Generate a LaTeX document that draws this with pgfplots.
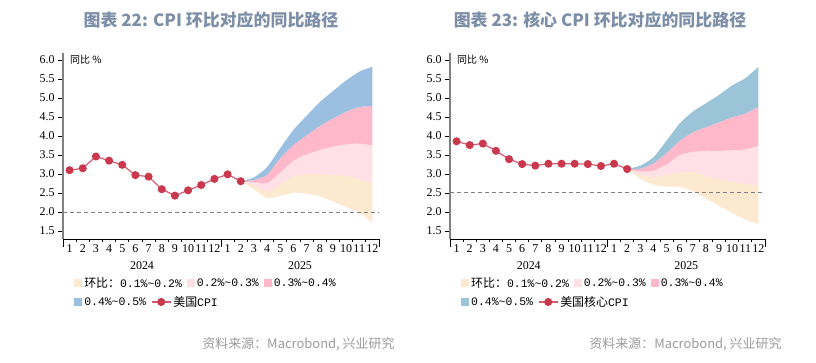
\documentclass[border=0pt]{standalone}
\usepackage{fontspec}
\usepackage{pgfplots}
\usepackage{pgfplotstable}
\pgfplotsset{compat=1.18}
\usepgfplotslibrary{fillbetween}
\setmainfont{Liberation Serif}
\newfontfamily\cjk{Noto Sans CJK SC}
\newfontfamily\lmono{Liberation Mono}
\definecolor{cBeige}{HTML}{FCE9CF}
\definecolor{cLPink}{HTML}{FFE0E6}
\definecolor{cPink}{HTML}{FFB8C9}
\definecolor{cBlueA}{HTML}{9BBFE0}
\definecolor{cBlueB}{HTML}{9CC4D9}
\definecolor{cRed}{HTML}{C9384C}
\definecolor{cLine}{HTML}{D65A6E}
\definecolor{cTitle}{HTML}{7D8EA7}
\definecolor{cSrc}{HTML}{9A9A9A}

\pgfplotstableread{
x y
1 3.10
2 3.15
3 3.46
4 3.35
5 3.24
6 2.97
7 2.93
8 2.60
9 2.43
10 2.57
11 2.71
12 2.87
13 2.99
14 2.81
}\cpiA

\pgfplotstableread{
x l1 l2 l3 l4 l5
14 2.81 2.81 2.81 2.81 2.81
15 2.60 2.71 2.78 2.84 2.91
16 2.37 2.53 2.76 2.98 3.18
17 2.42 2.73 3.04 3.42 3.68
18 2.51 2.93 3.35 3.76 4.16
19 2.48 3.00 3.52 4.02 4.53
20 2.41 3.00 3.63 4.26 4.89
21 2.28 2.98 3.72 4.46 5.18
22 2.13 2.95 3.78 4.64 5.46
23 1.99 2.88 3.80 4.76 5.69
24 1.71 2.74 3.75 4.79 5.82
}\bandA

\pgfplotstableread{
x y
1 3.86
2 3.76
3 3.80
4 3.61
5 3.39
6 3.26
7 3.22
8 3.27
9 3.27
10 3.27
11 3.26
12 3.21
13 3.27
14 3.13
}\cpiB

\pgfplotstableread{
x l1 l2 l3 l4 l5
14 3.13 3.13 3.13 3.13 3.13
15 2.88 2.99 3.07 3.14 3.22
16 2.72 2.92 3.09 3.28 3.44
17 2.67 2.98 3.25 3.55 3.88
18 2.66 3.04 3.50 3.87 4.33
19 2.55 3.05 3.58 4.10 4.64
20 2.36 2.96 3.61 4.23 4.86
21 2.16 2.86 3.61 4.36 5.08
22 1.98 2.80 3.62 4.49 5.33
23 1.80 2.74 3.65 4.59 5.52
24 1.68 2.70 3.74 4.77 5.82
}\bandB

\newcommand{\pct}[2]{{\lmono\fontsize{11.5}{13}\selectfont #1\%\textasciitilde #2\%}}

\pgfplotsset{
  sqlegend/.style={legend image code/.code={\fill[##1,draw=none] (0bp,-4bp) rectangle (8bp,4bp);}},
  lnlegend/.style={legend image code/.code={\draw[##1,mark repeat=2,mark phase=2] plot coordinates {(0bp,0bp) (9.5bp,0bp) (19bp,0bp)};}},
  panel/.style={
    scale only axis, height=186.3bp,
    xmin=0.5, xmax=24.5, ymin=1.29, ymax=6.19,
    axis x line*=bottom, axis y line*=left,
    x axis line style={black, line width=0.8bp},
    y axis line style={color=black!50, line width=2bp},
    xtick={0.5,1.5,...,24.5}, x tick label as interval,
    xticklabels={1,2,3,4,5,6,7,8,9,10,11,12,1,2,3,4,5,6,7,8,9,10,11,12},
    extra x ticks={0.5,12.5,24.5}, extra x tick labels={},
    extra x tick style={major tick length=8bp},
    ytick=\empty,
    extra y ticks={1.5,2,2.5,3,3.5,4,4.5,5,5.5,6},
    extra y tick style={major tick length=5bp},
    yticklabel style={/pgf/number format/.cd, fixed, fixed zerofill, precision=1, assume math mode=true},
    ticklabel style={font=\fontsize{12}{14}\selectfont},
    xticklabel style={inner sep=1bp, yshift=-1.5bp},
    tick align=outside, major tick length=3bp,
    tick style={black, line width=0.8bp},
    clip=false,
  },
  panellegend/.style={
    legend style={draw=none, fill=none, inner sep=0pt, anchor=west,
      font=\cjk\fontsize{12}{13}\selectfont,
      /tikz/every even column/.append style={column sep=3bp}},
  },
}

\begin{document}
\begin{tikzpicture}

% ---------------- Left panel ----------------
\begin{axis}[panel, at={(63bp,124bp)}, anchor=south west, width=316bp,
  panellegend, legend columns=3, legend style={at={(0.035,-0.236)}}]
\addplot[draw=none, forget plot, name path=a1, smooth, tension=0.4] table[x=x,y=l1] {\bandA};
\addplot[draw=none, forget plot, name path=a2, smooth, tension=0.4] table[x=x,y=l2] {\bandA};
\addplot[draw=none, forget plot, name path=a3, smooth, tension=0.4] table[x=x,y=l3] {\bandA};
\addplot[draw=none, forget plot, name path=a4, smooth, tension=0.4] table[x=x,y=l4] {\bandA};
\addplot[draw=none, forget plot, name path=a5, smooth, tension=0.4] table[x=x,y=l5] {\bandA};
\addplot[cBeige, draw=none, forget plot] fill between[of=a1 and a2];
\addplot[cLPink, draw=none, forget plot] fill between[of=a2 and a3];
\addplot[cPink, draw=none, forget plot] fill between[of=a3 and a4];
\addplot[cBlueA, draw=none, forget plot] fill between[of=a4 and a5];
\addplot[black!50, line width=1bp, dash pattern=on 4bp off 3bp, forget plot] coordinates {(0.5,2) (24.5,2)};
\addplot[cLine, line width=1.2bp, mark=*, mark size=3.4bp, mark options={draw=cRed, fill=cRed}, forget plot] table[x=x,y=y] {\cpiA};
\addlegendimage{sqlegend, fill=cBeige}
\addlegendentry{环比：\pct{0.1}{0.2}}
\addlegendimage{sqlegend, fill=cLPink}
\addlegendentry{\pct{0.2}{0.3}}
\addlegendimage{sqlegend, fill=cPink}
\addlegendentry{\pct{0.3}{0.4}}
\node[anchor=west, inner sep=0pt, font=\cjk\fontsize{10}{12}\selectfont] at (rel axis cs:0.022,0.961) {同比 \%};
\node[font=\fontsize{12}{14}\selectfont] at (axis cs:6.5,1.29) [yshift=-27bp] {2024};
\node[font=\fontsize{12}{14}\selectfont] at (axis cs:18.5,1.29) [yshift=-27bp] {2025};
\end{axis}
\begin{axis}[panel, hide axis, at={(63bp,124bp)}, anchor=south west, width=316bp,
  panellegend, legend columns=2, legend style={at={(0.035,-0.338)}}]
\addplot[draw=none, forget plot] coordinates {(1,3) (2,3)};
\addlegendimage{sqlegend, fill=cBlueA}
\addlegendentry{\pct{0.4}{0.5}}
\addlegendimage{lnlegend, cLine, line width=1.2bp, mark=*, mark size=3.4bp, mark options={draw=cRed, fill=cRed}}
\addlegendentry{美国{\lmono\fontsize{11.5}{13}\selectfont CPI}}
\end{axis}

% ---------------- Right panel ----------------
\begin{axis}[panel, at={(450bp,124bp)}, anchor=south west, width=315bp,
  panellegend, legend columns=3, legend style={at={(0.035,-0.236)}}]
\addplot[draw=none, forget plot, name path=b1, smooth, tension=0.4] table[x=x,y=l1] {\bandB};
\addplot[draw=none, forget plot, name path=b2, smooth, tension=0.4] table[x=x,y=l2] {\bandB};
\addplot[draw=none, forget plot, name path=b3, smooth, tension=0.4] table[x=x,y=l3] {\bandB};
\addplot[draw=none, forget plot, name path=b4, smooth, tension=0.4] table[x=x,y=l4] {\bandB};
\addplot[draw=none, forget plot, name path=b5, smooth, tension=0.4] table[x=x,y=l5] {\bandB};
\addplot[cBeige, draw=none, forget plot] fill between[of=b1 and b2];
\addplot[cLPink, draw=none, forget plot] fill between[of=b2 and b3];
\addplot[cPink, draw=none, forget plot] fill between[of=b3 and b4];
\addplot[cBlueB, draw=none, forget plot] fill between[of=b4 and b5];
\addplot[black!50, line width=1bp, dash pattern=on 4bp off 3bp, forget plot] coordinates {(0.5,2.5) (24.5,2.5)};
\addplot[cLine, line width=1.2bp, mark=*, mark size=3.4bp, mark options={draw=cRed, fill=cRed}, forget plot] table[x=x,y=y] {\cpiB};
\addlegendimage{sqlegend, fill=cBeige}
\addlegendentry{环比：\pct{0.1}{0.2}}
\addlegendimage{sqlegend, fill=cLPink}
\addlegendentry{\pct{0.2}{0.3}}
\addlegendimage{sqlegend, fill=cPink}
\addlegendentry{\pct{0.3}{0.4}}
\node[anchor=west, inner sep=0pt, font=\cjk\fontsize{10}{12}\selectfont] at (rel axis cs:0.022,0.961) {同比 \%};
\node[font=\fontsize{12}{14}\selectfont] at (axis cs:6.5,1.29) [yshift=-27bp] {2024};
\node[font=\fontsize{12}{14}\selectfont] at (axis cs:18.5,1.29) [yshift=-27bp] {2025};
\end{axis}
\begin{axis}[panel, hide axis, at={(450bp,124bp)}, anchor=south west, width=315bp,
  panellegend, legend columns=2, legend style={at={(0.035,-0.338)}}]
\addplot[draw=none, forget plot] coordinates {(1,3) (2,3)};
\addlegendimage{sqlegend, fill=cBlueB}
\addlegendentry{\pct{0.4}{0.5}}
\addlegendimage{lnlegend, cLine, line width=1.2bp, mark=*, mark size=3.4bp, mark options={draw=cRed, fill=cRed}}
\addlegendentry{美国核心{\lmono\fontsize{11.5}{13}\selectfont CPI}}
\end{axis}

% ---------------- Titles and sources ----------------
\node[font=\cjk\bfseries\fontsize{17}{20}\selectfont, text=cTitle] at (211bp,343bp) {图表 22: CPI 环比对应的同比路径};
\node[font=\cjk\bfseries\fontsize{17}{20}\selectfont, text=cTitle] at (600bp,343bp) {图表 23: 核心 CPI 环比对应的同比路径};
\node[anchor=east, font=\cjk\fontsize{13}{15}\selectfont, text=cSrc] at (398bp,19bp) {资料来源：Macrobond, 兴业研究};
\node[anchor=east, font=\cjk\fontsize{13}{15}\selectfont, text=cSrc] at (785bp,19bp) {资料来源：Macrobond, 兴业研究};
\path (0,0) rectangle (816bp,363bp);
\end{tikzpicture}
\end{document}
